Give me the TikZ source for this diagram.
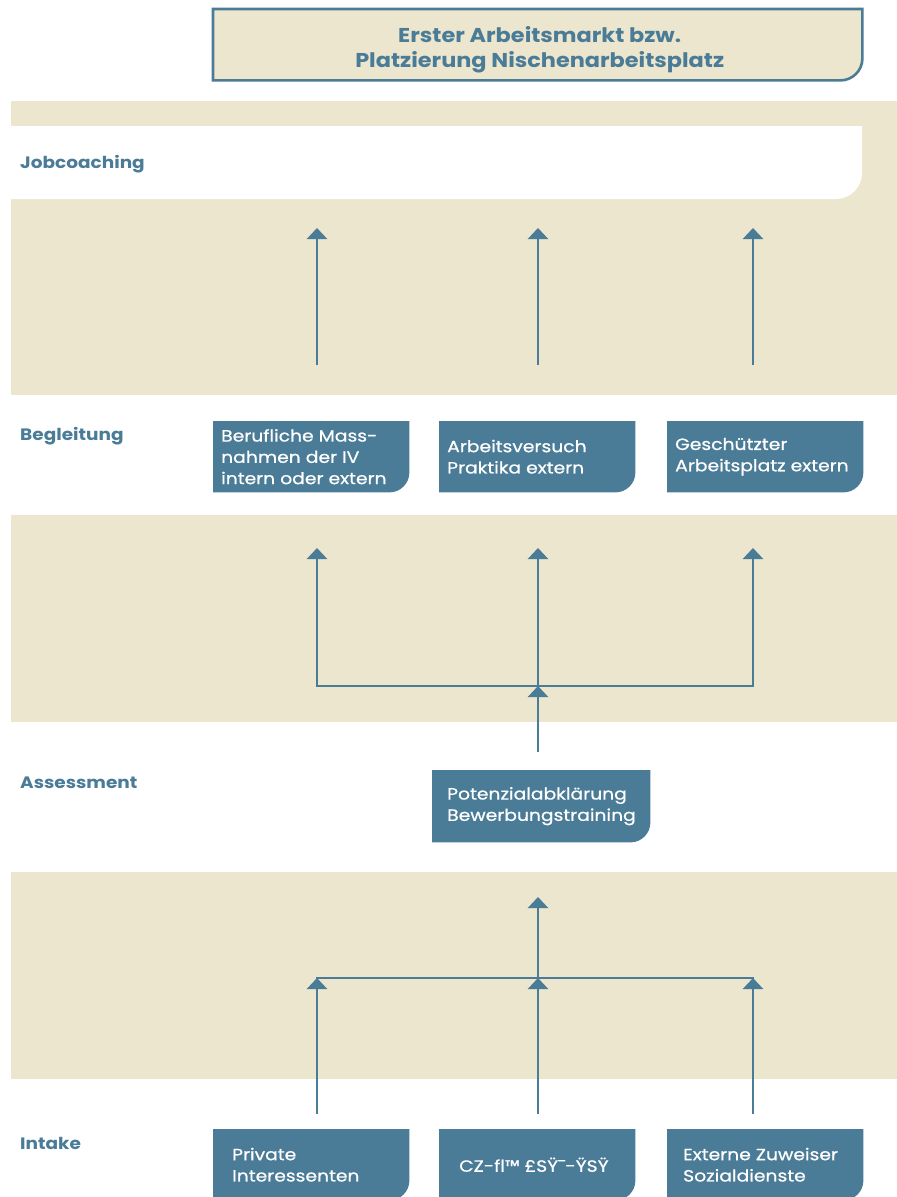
\documentclass[tikz,border=0pt]{standalone}
\usepackage{fontspec}
\setmainfont{Poppins}[FakeStretch=1.12]
\newfontfamily\medfont{Poppins}[FakeStretch=1.15,FakeBold=0.7]
\usetikzlibrary{arrows.meta}
\definecolor{band}{HTML}{EBE6CD}
\definecolor{steel}{HTML}{4A7B97}
\pgfdeclarelayer{bands}
\pgfdeclarelayer{boxes}
\pgfsetlayers{bands,boxes,main}
% rectangle with only the bottom-right corner rounded: #1 nw, #2 se, #3 radius (pt, number)
\newcommand\brpath[3]{%
  (#1) -- (#1 -| #2) -- ([yshift=#3pt]#2) .. controls +(0pt,{-0.552*#3pt}) and +({0.552*#3pt},0pt) .. ([xshift=-#3pt]#2) -- (#1 |- #2) -- cycle}
\begin{document}
\begin{tikzpicture}[x=1pt,y=-1pt,
  conn/.style={draw=steel,line width=2.6pt},
  arr/.style={conn,-{Triangle[width=20pt,length=11pt]}},
  lab/.style={anchor=base west,inner sep=0,text=steel,font=\bfseries\fontsize{16.5}{20}\selectfont},
  box/.style={rectangle,anchor=north west,inner sep=0,minimum width=196pt,minimum height=71pt},
  btext/.style={anchor=west,inner sep=0,align=left,text=white,font=\medfont\fontsize{16.3}{21.3}\selectfont},
  ttext/.style={inner sep=0,align=center,text=steel,font=\bfseries\fontsize{20}{25}\selectfont}]
\useasboundingbox (0,0) rectangle (897,1197);

% bands
\begin{pgfonlayer}{bands}
\fill[white] (0,0) rectangle (897,1197);
\coordinate (bandA1) at (11,101); \coordinate (bandA2) at (897,395);
\fill[band] (bandA1) rectangle (bandA2);
\coordinate (wA1) at (11,126); \coordinate (wA2) at (862,199);
\fill[white] \brpath{wA1}{wA2}{26};
\coordinate (bandB1) at (11,515); \coordinate (bandB2) at (897,722);
\fill[band] (bandB1) rectangle (bandB2);
\coordinate (bandC1) at (11,872); \coordinate (bandC2) at (897,1079);
\fill[band] (bandC1) rectangle (bandC2);
\end{pgfonlayer}

% top box
\node[box,minimum width=649pt] (top) at (213,9) {};
\node[ttext] (toptxt) at ([xshift=2pt,yshift=-5pt]top.center) {Erster Arbeitsmarkt bzw.\\Platzierung Nischenarbeitsplatz};
\begin{pgfonlayer}{boxes}
\filldraw[fill=band,draw=steel,line width=2.6pt] \brpath{top.north west}{top.south east}{22};
\end{pgfonlayer}

% row labels
\node[lab] (ljob) at (20,168) {Jobcoaching};
\node[lab] (lbeg) at (20,440) {Begleitung};
\node[lab] (lass) at (20,788) {Assessment};
\node[lab] (lint) at (20,1149) {Intake};

% Begleitung boxes
\node[box] (b1) at (213,421) {};
\node[box] (b2) at (439,421) {};
\node[box] (b3) at (667,421) {};
\node[btext] (tb1) at ([xshift=8pt]b1.west) {Berufliche Mass-\\nahmen der IV\\intern oder extern};
\node[btext] (tb2) at ([xshift=8pt]b2.west) {Arbeitsversuch\\Praktika extern};
\node[btext] (tb3) at ([xshift=8pt]b3.west) {Geschützter\\Arbeitsplatz extern};

% Assessment box
\node[box,minimum width=218pt,minimum height=72pt] (a1) at (432,770) {};
\node[btext] (ta1) at ([xshift=15pt]a1.west) {Potenzialabklärung\\Bewerbungstraining};

% Intake boxes
\node[box] (i1) at (213,1129) {};
\node[box] (i2) at (439,1129) {};
\node[box] (i3) at (667,1129) {};
\node[btext] (ti1) at ([xshift=19pt]i1.west) {Private\\Interessenten};
\node[btext] (ti2) at ([xshift=20pt]i2.west) {CZ-fl™ £SŸ¯-ŸSŸ};
\node[btext] (ti3) at ([xshift=16pt]i3.west) {Externe Zuweiser\\Sozialdienste};

\begin{pgfonlayer}{boxes}
\foreach \n in {b1,b2,b3,a1,i1,i2,i3}{
  \fill[steel] \brpath{\n.north west}{\n.south east}{20};
}
\end{pgfonlayer}

% connector points
\coordinate (p1a) at (317,365); \coordinate (p1b) at (317,228);
\coordinate (p2a) at (538,365); \coordinate (p2b) at (538,228);
\coordinate (p3a) at (753,365); \coordinate (p3b) at (753,228);

\coordinate (q1a) at (317,686); \coordinate (q1b) at (317,548);
\coordinate (q2a) at (538,686); \coordinate (q2b) at (538,548);
\coordinate (q3a) at (753,686); \coordinate (q3b) at (753,548);
\coordinate (q0)  at (538,752);

\coordinate (r1a) at (317,1114); \coordinate (r1b) at (317,978);
\coordinate (r2a) at (538,1114); \coordinate (r2b) at (538,978);
\coordinate (r3a) at (753,1114); \coordinate (r3b) at (753,978);
\coordinate (r0)  at (538,897);

% band 1 arrows
\draw[arr] (p1a) -- (p1b);
\draw[arr] (p2a) -- (p2b);
\draw[arr] (p3a) -- (p3b);

% band 2
\draw[conn,line cap=rect] (q1a) -- (q3a);
\draw[arr] (q1a) -- (q1b);
\draw[arr] (q2a) -- (q2b);
\draw[arr] (q3a) -- (q3b);
\draw[arr] (q0) -- (q2a);

% band 3
\draw[conn,line cap=rect] (r1b) -- (r3b);
\draw[arr] (r2b) -- (r0);
\draw[arr] (r1a) -- (r1b);
\draw[arr] (r2a) -- (r2b);
\draw[arr] (r3a) -- (r3b);
\end{tikzpicture}
\end{document}
